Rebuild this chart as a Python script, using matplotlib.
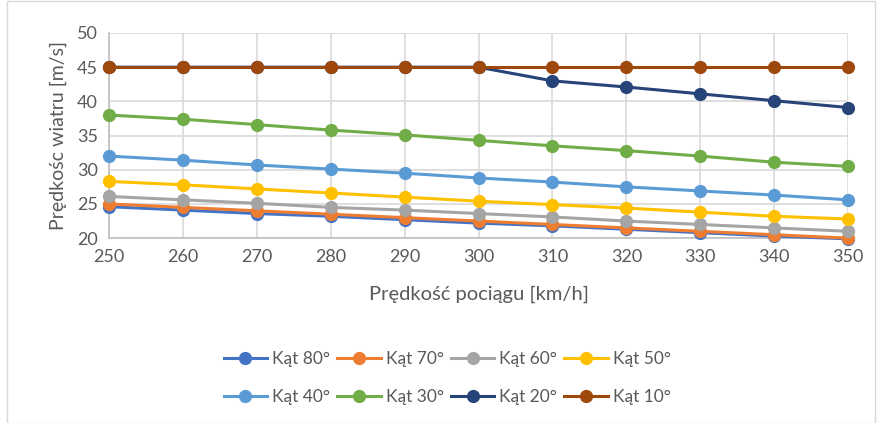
import numpy as np
import matplotlib.pyplot as plt

plt.rcParams['font.family'] = ['Lato', 'DejaVu Sans']

# train speed [km/h]
speeds = [250, 260, 270, 280, 290, 300, 310, 320, 330, 340, 350]

labels = ['Kąt 80°', 'Kąt 70°', 'Kąt 60°', 'Kąt 50°',
          'Kąt 40°', 'Kąt 30°', 'Kąt 20°', 'Kąt 10°']
colors = ['#4472C4', '#ED7D31', '#A5A5A5', '#FFC000',
          '#5B9BD5', '#70AD47', '#264478', '#9E480E']

kat80 = [24.6, 24.1, 23.6, 23.2, 22.7, 22.2, 21.8, 21.3, 20.8, 20.3, 19.9]
kat70 = [25.0, 24.5, 24.0, 23.5, 23.0, 22.5, 22.0, 21.5, 21.0, 20.5, 20.0]
kat60 = [26.1, 25.6, 25.1, 24.5, 24.1, 23.6, 23.1, 22.5, 22.0, 21.5, 21.0]
kat50 = [28.3, 27.8, 27.2, 26.6, 26.0, 25.4, 24.9, 24.4, 23.8, 23.2, 22.8]
kat40 = [32.0, 31.4, 30.7, 30.1, 29.5, 28.8, 28.2, 27.5, 26.9, 26.3, 25.6]
kat30 = [38.0, 37.4, 36.6, 35.8, 35.1, 34.3, 33.5, 32.8, 32.0, 31.1, 30.5]
kat20 = [45.0, 45.0, 45.0, 45.0, 45.0, 45.0, 43.0, 42.1, 41.1, 40.1, 39.1]
kat10 = [45.0, 45.0, 45.0, 45.0, 45.0, 45.0, 45.0, 45.0, 45.0, 45.0, 45.0]

series = [kat80, kat70, kat60, kat50, kat40, kat30, kat20, kat10]

fig = plt.figure(figsize=(8.77, 4.23), dpi=100)
ax = fig.add_axes([0.1243, 0.437, 0.967 - 0.1243, 0.922 - 0.437])

handles = []
for vals, lab, c in zip(series, labels, colors):
    h, = ax.plot(speeds, vals, color=c, lw=2.2, marker='o', ms=8.5, label=lab,
                 clip_on=False, zorder=3)
    handles.append(h)

ax.set_xlim(250, 350)
ax.set_ylim(20, 50)
ax.set_xticks(speeds)
ax.set_yticks(np.arange(20, 51, 5))
ax.grid(True, color='#d9d9d9', lw=1.2)
ax.set_axisbelow(True)
for s in ['top', 'right']:
    ax.spines[s].set_visible(False)
for s in ['left', 'bottom']:
    ax.spines[s].set_color('#bfbfbf')
    ax.spines[s].set_linewidth(1.2)
ax.tick_params(length=0, labelsize=13, colors='#595959', pad=8)

ax.set_xlabel('Prędkość pociągu [km/h]', fontsize=14.5, color='#595959', labelpad=15)
ax.set_ylabel('Prędkośc wiatru [m/s]', fontsize=14, color='#595959', labelpad=7)

# legend filled row by row (matplotlib fills by column)
order = [0, 4, 1, 5, 2, 6, 3, 7]
fig.legend([handles[i] for i in order], [labels[i] for i in order],
           loc='center', bbox_to_anchor=(0.51, 0.107), ncol=4, frameon=False,
           fontsize=12.5, labelcolor='#595959', handlelength=2.5,
           columnspacing=0.4, handletextpad=0.3, labelspacing=1.25)

# outer chart frame
fig.patches.append(plt.Rectangle((0.008, 0.0), 0.99, 0.998, transform=fig.transFigure,
                                 fill=False, ec='#d9d9d9', lw=1))

fig.savefig('out.png', dpi=100)
